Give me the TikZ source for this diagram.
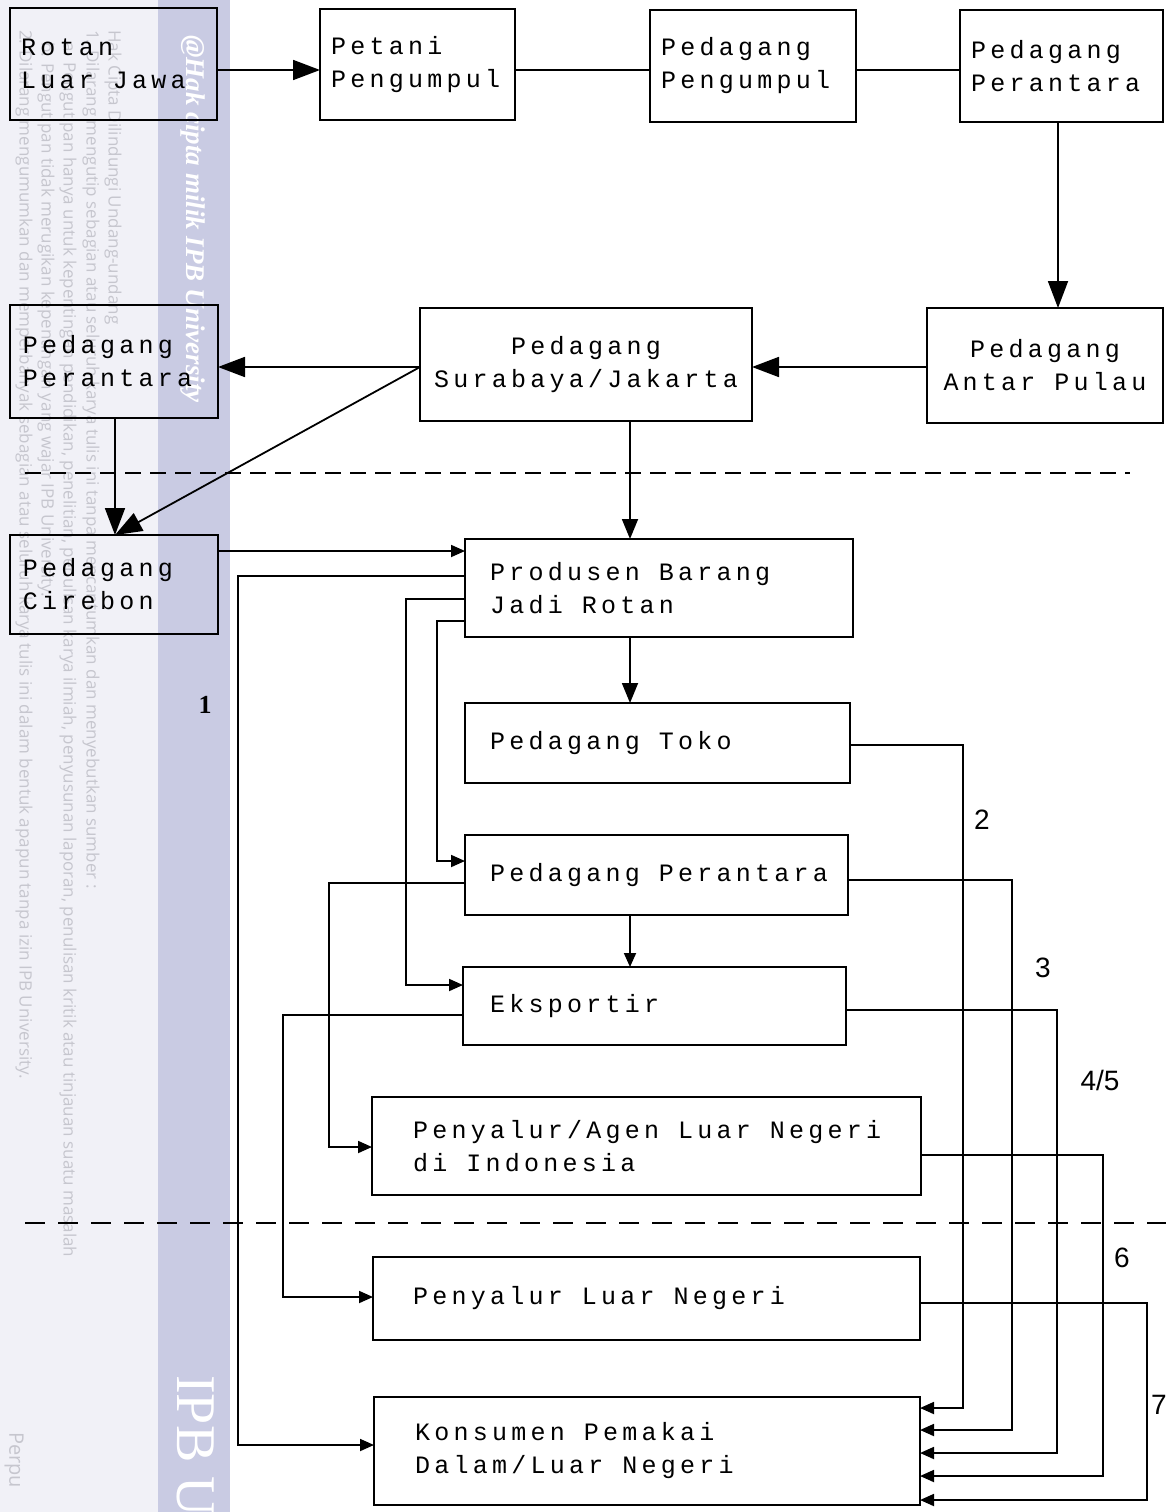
\documentclass[tikz,border=0pt]{standalone}
\usepackage{fontspec}
\setmainfont{Liberation Serif}
\newfontfamily\dotfont{Liberation Mono}[LetterSpace=17]
\newfontfamily\wmsans{Open Sans}
\newfontfamily\wmserif{Liberation Serif}
\newfontfamily\lblfont{Liberation Sans}
\usetikzlibrary{arrows.meta}
\definecolor{wmlight}{HTML}{F1F1F7}
\definecolor{wmdark}{HTML}{C9CBE3}
\definecolor{wmgray}{HTML}{C6C6CE}
\newcommand\gp{\hspace*{19pt}}
\tikzset{
  box/.style={draw, line width=2.3pt, font=\dotfont\fontsize{25}{33}\selectfont, align=left, inner ysep=0pt, outer sep=0pt},
  conn/.style={line width=1.8pt},
  bigarr/.style={conn, -{Triangle[length=27pt,width=20pt]}},
  midarr/.style={conn, -{Triangle[length=20pt,width=16pt]}},
  arr/.style={conn, -{Triangle[length=14pt,width=12pt]}},
  dashline/.style={line width=1.8pt, dash pattern=on 16pt off 9pt},
  lbl/.style={font=\lblfont\fontsize{28}{30}\selectfont, inner sep=0pt},
  wmsmall/.style={font=\wmsans\fontsize{17}{19}\selectfont, text=wmgray, rotate=-90, anchor=west, inner sep=0pt},
}
\begin{document}
\begin{tikzpicture}[x=1pt,y=-1pt]
\useasboundingbox (0,0) rectangle (1166,1512);
% watermark band
\begin{scope}
\clip (0,0) rectangle (1166,1512);
\fill[wmlight] (0,0) rectangle (158,1512);
\fill[wmdark] (158,0) rectangle (230,1512);
\node[wmsmall] (wm1) at (113,30) {Hak Cipta Dilindungi Undang-undang};
\node[wmsmall] (wm2) at (91,30) {1. Dilarang mengutip sebagian atau seluruh karya tulis ini tanpa mencantumkan dan menyebutkan sumber :};
\node[wmsmall] (wm3) at (68,42) {a. Pengutipan hanya untuk kepentingan pendidikan, penelitian, penulisan karya ilmiah, penyusunan laporan, penulisan kritik atau tinjauan suatu masalah};
\node[wmsmall] (wm4) at (46,42) {b. Pengutipan tidak merugikan kepentingan yang wajar IPB University.};
\node[wmsmall] (wm5) at (24,30) {2. Dilarang mengumumkan dan memperbanyak sebagian atau seluruh karya tulis ini dalam bentuk apapun tanpa izin IPB University.};
\node[font=\wmserif\bfseries\itshape\fontsize{27}{29}\selectfont, text=white, rotate=-90, anchor=west, inner sep=0pt] (wmtitle) at (193,35) {@Hak cipta milik IPB University};
\node[font=\wmserif\fontsize{56}{60}\selectfont, text=white, rotate=-90, anchor=west, inner sep=0pt] (wmipb) at (196,1375) {IPB U};
\node[font=\wmsans\fontsize{20}{22}\selectfont, text=wmgray, rotate=-90, anchor=west, inner sep=0pt] (wmperpu) at (14,1432) {Perpu};
\end{scope}

% boxes
\node[box, minimum width=207pt, minimum height=112pt, text width=185pt, inner xsep=11pt] (rotan) at (113.5,64) {Rotan\\Luar\gp Jawa};
\node[box, minimum width=195pt, minimum height=111pt, text width=173pt, inner xsep=11pt] (petani) at (417.5,64.5) {Petani\\Pengumpul};
\node[box, minimum width=206pt, minimum height=112pt, text width=184pt, inner xsep=11pt] (pengumpul) at (753,66) {Pedagang\\Pengumpul};
\node[box, minimum width=203pt, minimum height=112pt, text width=181pt, inner xsep=11pt] (perantaraTR) at (1061.5,66) {Pedagang\\Perantara};
\node[box, align=center, minimum width=236pt, minimum height=115pt, text width=226pt, inner xsep=5pt] (antarpulau) at (1045,365.5) {Pedagang\\Antar\gp Pulau};
\node[box, align=center, minimum width=332pt, minimum height=113pt, text width=322pt, inner xsep=5pt] (surabaya) at (586,364.5) {Pedagang\\Surabaya/Jakarta};
\node[box, minimum width=208pt, minimum height=113pt, text width=182pt, inner xsep=13pt] (perantaraL) at (114,361.5) {Pedagang\\Perantara};
\node[box, minimum width=208pt, minimum height=99pt, text width=182pt, inner xsep=13pt] (cirebon) at (114,584.5) {Pedagang\\Cirebon};
\node[box, minimum width=388pt, minimum height=98pt, text width=338pt, inner xsep=25pt] (produsen) at (659,588) {Produsen\gp Barang\\Jadi\gp Rotan};
\node[box, minimum width=385pt, minimum height=80pt, text width=335pt, inner xsep=25pt] (toko) at (657.5,743) {Pedagang\gp Toko};
\node[box, minimum width=383pt, minimum height=80pt, text width=333pt, inner xsep=25pt] (perantaraM) at (656.5,875) {Pedagang\gp Perantara};
\node[box, minimum width=383pt, minimum height=78pt, text width=329pt, inner xsep=27pt] (eksportir) at (654.5,1006) {Eksportir};
\node[box, minimum width=549pt, minimum height=98pt, text width=467pt, inner xsep=41pt] (agen) at (646.5,1146) {Penyalur/Agen\gp Luar\gp Negeri\\di\gp Indonesia};
\node[box, minimum width=547pt, minimum height=83pt, text width=467pt, inner xsep=40pt] (penyalurLN) at (646.5,1298.5) {Penyalur\gp Luar\gp Negeri};
\node[box, minimum width=546pt, minimum height=108pt, text width=464pt, inner xsep=41pt] (konsumen) at (647,1451) {Konsumen\gp Pemakai\\Dalam/Luar\gp Negeri};

% dashed boundaries
\coordinate (da1) at (25,473);
\coordinate (da2) at (1130,473);
\coordinate (db1) at (25,1223);
\coordinate (db2) at (1166,1223);
\draw[dashline] (da1) -- (da2);
\draw[dashline, dash pattern=on 20pt off 13pt] (db1) -- (db2);

% top flow
\draw[bigarr] (rotan.east |- 0,70) -- (petani.west |- 0,70);
\draw[conn] (petani.east |- 0,70) -- (pengumpul.west |- 0,70);
\draw[conn] (pengumpul.east |- 0,70) -- (perantaraTR.west |- 0,70);
\draw[bigarr] (perantaraTR.south -| 1058,0) -- (antarpulau.north -| 1058,0);
\draw[bigarr] (antarpulau.west |- 0,367) -- (surabaya.east |- 0,367);
\draw[bigarr] (surabaya.west |- 0,367) -- (perantaraL.east |- 0,367);
\draw[bigarr] (surabaya.west |- 0,367) -- (cirebon.north -| 115,0);
\draw[bigarr] (perantaraL.south -| 115,0) -- (cirebon.north -| 115,0);
\draw[midarr] (surabaya.south -| 630,0) -- (produsen.north -| 630,0);

% middle flow
\draw[arr] (cirebon.east |- 0,551) -- (produsen.west |- 0,551);
\draw[midarr] (produsen.south -| 630,0) -- (toko.north -| 630,0);
\draw[arr] (perantaraM.south -| 630,0) -- (eksportir.north -| 630,0);
\draw[arr] (produsen.west |- 0,576) -| (238,1445) -- (konsumen.west |- 0,1445);
\draw[arr] (produsen.west |- 0,599) -| (406,985) -- (eksportir.west |- 0,985);
\draw[arr] (produsen.west |- 0,621) -| (437,861) -- (perantaraM.west |- 0,861);
\draw[arr] (perantaraM.west |- 0,883) -| (329,1147) -- (agen.west |- 0,1147);
\draw[arr] (eksportir.west |- 0,1015) -| (283,1297) -- (penyalurLN.west |- 0,1297);

% right side to consumers
\draw[arr] (toko.east |- 0,745) -| (963,1408) -- (konsumen.east |- 0,1408);
\draw[arr] (perantaraM.east |- 0,880) -| (1012,1430) -- (konsumen.east |- 0,1430);
\draw[arr] (eksportir.east |- 0,1010) -| (1057,1453) -- (konsumen.east |- 0,1453);
\draw[arr] (agen.east |- 0,1155) -| (1103,1476) -- (konsumen.east |- 0,1476);
\draw[arr] (penyalurLN.east |- 0,1303) -| (1147,1500) -- (konsumen.east |- 0,1500);

% channel labels
\node[font=\wmserif\bfseries\fontsize{26}{28}\selectfont, inner sep=0pt] (l1) at (205,705) {1};
\node[lbl] (l2) at (982,820) {2};
\node[lbl] (l3) at (1043,968) {3};
\node[lbl] (l45) at (1100,1080) {4/5};
\node[lbl] (l6) at (1122,1258) {6};
\node[lbl] (l7) at (1159,1405) {7};
\end{tikzpicture}
\end{document}
